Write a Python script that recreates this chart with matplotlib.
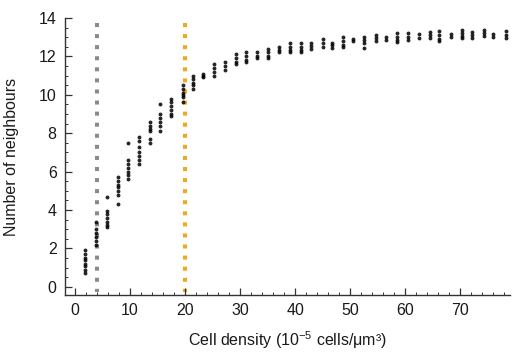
import matplotlib
matplotlib.use("Agg")
import matplotlib.pyplot as plt
from matplotlib.ticker import MultipleLocator

# cluster positions (cell density, 1e-5 cells/um^3)
density = [1.9, 3.9, 5.8, 7.8, 9.6, 11.6, 13.6, 15.5, 17.5, 19.6,
           21.4, 23.3, 25.2, 27.3, 29.3, 31.1, 33.0, 35.0, 37.0, 39.0,
           41.0, 42.9, 45.0, 46.7, 48.7, 50.5, 52.5, 54.7, 56.5, 58.5,
           60.5, 62.4, 64.4, 66.2, 68.3, 70.3, 72.1, 74.2, 76.0, 78.2]

# number of neighbours measured at each density
neighbours = [
    [0.7, 0.9, 1.1, 1.2, 1.4, 1.5, 1.7, 1.9],
    [2.2, 2.4, 2.6, 2.8, 3.0, 3.4],
    [4.7, 3.95, 3.8, 3.6, 3.4, 3.2, 3.1],
    [5.7, 5.5, 5.3, 5.2, 5.0, 4.8, 4.3],
    [7.5, 6.6, 6.4, 6.2, 6.0, 5.8, 5.6],
    [7.8, 7.6, 7.3, 7.0, 6.8, 6.6, 6.4],
    [8.6, 8.4, 8.2, 8.1, 7.7, 7.5],
    [9.5, 9.0, 8.8, 8.6, 8.4, 8.1],
    [9.8, 9.6, 9.4, 9.2, 9.0, 8.9],
    [10.5, 10.3, 10.1, 10.0, 9.9, 9.6],
    [11.0, 10.8, 10.6, 10.5, 10.3],
    [11.1, 11.0, 10.9],
    [11.6, 11.4, 11.2, 11.0],
    [11.7, 11.5, 11.3],
    [12.1, 11.9, 11.7, 11.6],
    [12.2, 12.0, 11.8, 11.7],
    [12.2, 12.0, 11.9],
    [12.4, 12.2, 12.0, 11.9],
    [12.5, 12.35, 12.2],
    [12.7, 12.5, 12.35, 12.2],
    [12.7, 12.5, 12.35, 12.2],
    [12.7, 12.55, 12.4],
    [12.9, 12.7, 12.5],
    [12.7, 12.6, 12.45],
    [13.0, 12.8, 12.6, 12.5],
    [12.9, 12.8],
    [13.0, 12.85, 12.7, 12.45],
    [13.1, 12.95, 12.8],
    [13.0, 12.85],
    [13.2, 13.0, 12.85, 12.75],
    [13.2, 13.0, 12.85],
    [13.15, 12.95],
    [13.25, 13.1, 12.95],
    [13.3, 13.1, 12.9, 12.8],
    [13.15, 13.0],
    [13.35, 13.2, 13.05, 12.95],
    [13.25, 13.1, 12.95],
    [13.35, 13.2, 13.05],
    [13.15, 13.0],
    [13.3, 13.1, 12.95],
]

# reference densities marked with dotted lines
marker_lines = [4.0, 20.0]
marker_colors = ["#8a8a8a", "#f0a820"]
line_top = 13.75

plt.rcParams["font.family"] = ["Liberation Sans", "DejaVu Sans"]
plt.rcParams["mathtext.default"] = "regular"

fig = plt.figure(figsize=(5.12, 3.58), dpi=100)
ax = fig.add_axes([0.127, 0.176, 0.869, 0.774])

# drawn top-down so the dash pattern starts at the top
for xv, col in zip(marker_lines, marker_colors):
    ax.plot([xv, xv], [line_top, -0.25], color=col, lw=2.9,
            linestyle=(0, (1.0, 1.75)), dash_capstyle="butt", zorder=1)

xs = [d for d, ys in zip(density, neighbours) for _ in ys]
ys = [y for ys in neighbours for y in ys]
ax.plot(xs, ys, "o", color="black", ms=2.8, mew=0, alpha=0.85, zorder=3)

ax.set_xlim(-1.8, 79)
ax.set_ylim(-0.42, 14)
ax.xaxis.set_major_locator(MultipleLocator(10))
ax.xaxis.set_minor_locator(MultipleLocator(2))
ax.yaxis.set_major_locator(MultipleLocator(2))
ax.yaxis.set_minor_locator(MultipleLocator(0.5))

for side in ["top", "right"]:
    ax.spines[side].set_visible(False)
for side in ["left", "bottom"]:
    ax.spines[side].set_color("#333333")
    ax.spines[side].set_linewidth(1.0)

ax.tick_params(which="both", direction="in", color="#333333",
               labelsize=11.5, labelcolor="#1a1a1a")
ax.tick_params(which="major", length=5, width=0.9, pad=6)
ax.tick_params(which="minor", length=2.5, width=0.7)

ax.set_xlabel("Cell density (10$^{-5}$ cells/μm³)", fontsize=11.5,
              color="#1a1a1a", labelpad=8)
ax.set_ylabel("Number of neighbours", fontsize=11.5, color="#1a1a1a",
              labelpad=14)

fig.savefig("out.png", dpi=100)
